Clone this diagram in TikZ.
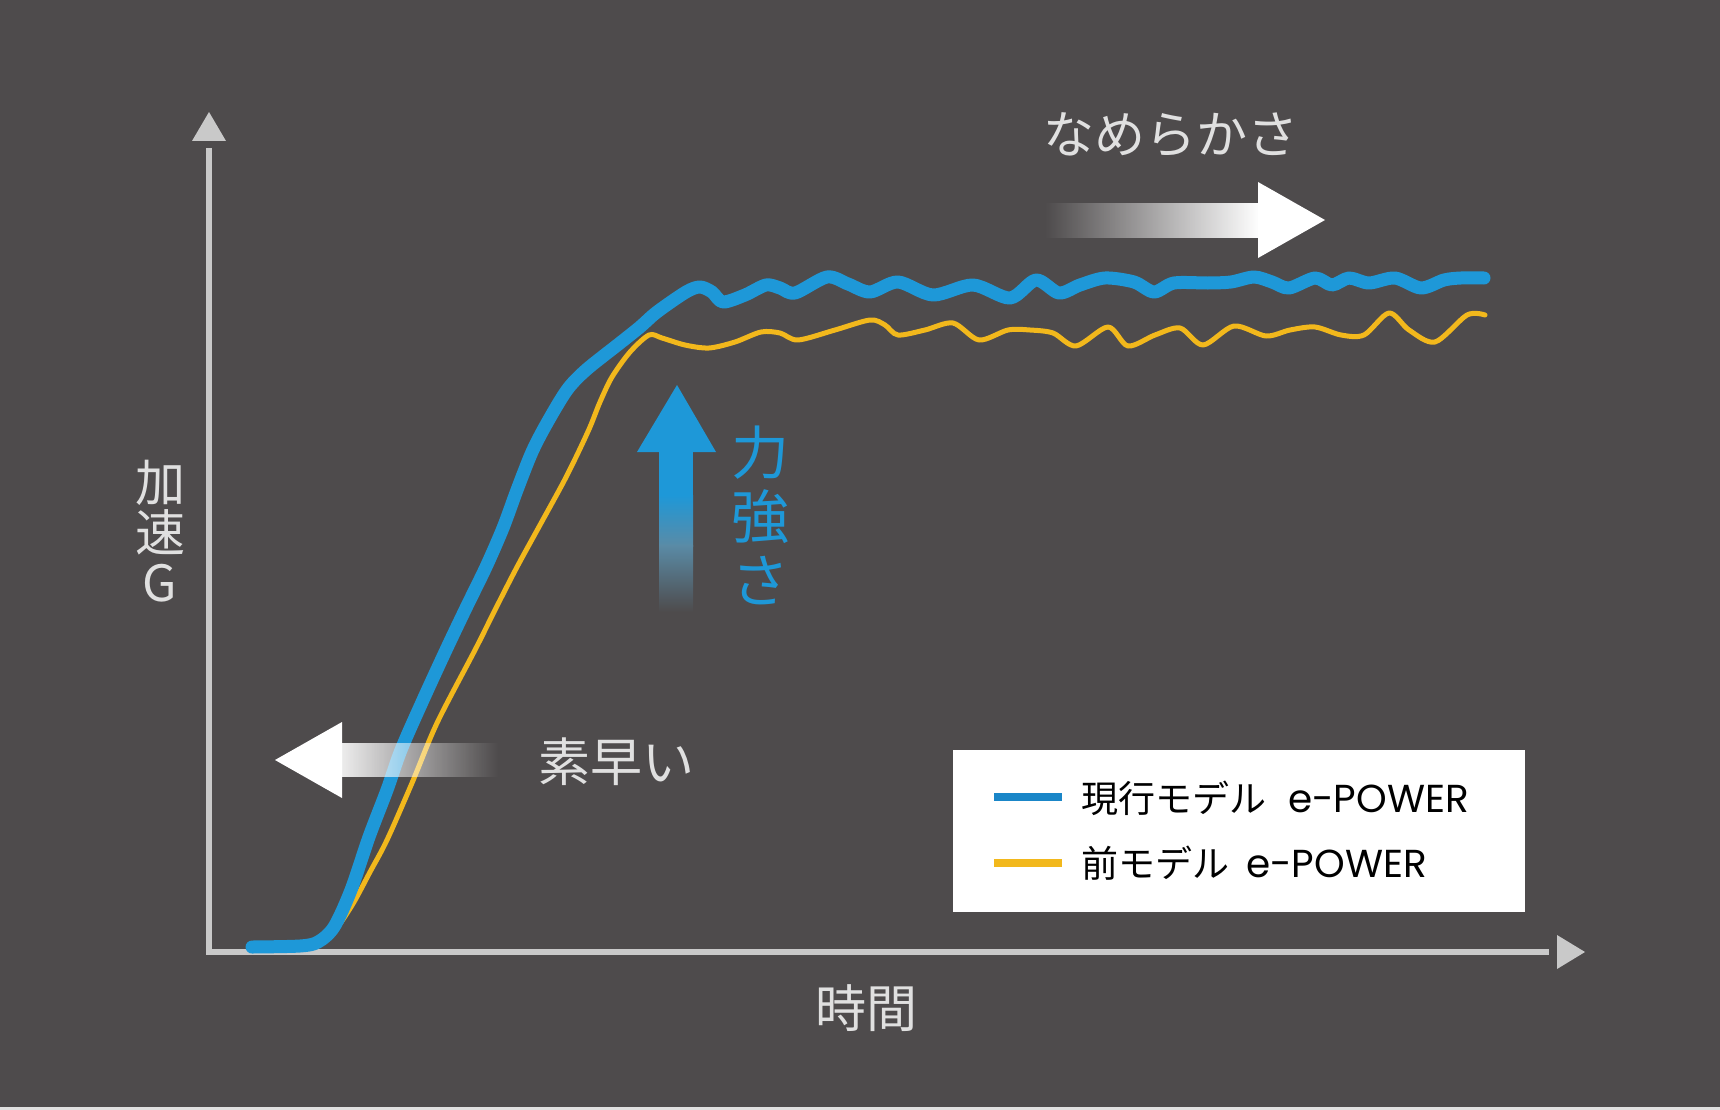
\documentclass[tikz,border=0pt]{standalone}
\usepackage{fontspec}
\setmainfont{Noto Sans CJK JP}
\newfontfamily\latinfont{Poppins}
\usetikzlibrary{fadings}
\definecolor{bg}{HTML}{4E4B4C}
\definecolor{axisc}{HTML}{C9C9C9}
\definecolor{txt}{HTML}{E0E0E0}
\definecolor{cblue}{HTML}{1E98D8}
\definecolor{cyellow}{HTML}{F2B81C}
\definecolor{lblue}{HTML}{1A86C8}
\definecolor{midblue}{HTML}{5A8BA6}
\definecolor{midgray}{HTML}{707070}
\tikzfading[name=fadeR, left color=transparent!0, right color=transparent!100]
\tikzfading[name=fadeL, left color=transparent!100, right color=transparent!0]
\tikzset{
  curve/.style={line join=round, line cap=round},
  label/.style={text=txt, inner sep=0pt},
  legtext/.style={anchor=west, inner sep=0pt, text=black, font=\fontsize{37}{37}\selectfont},
}
\newcommand\epower{{\latinfont\fontsize{39}{39}\selectfont e-POWER}}
\begin{document}
\begin{tikzpicture}[x=1pt,y=-1pt]
\useasboundingbox (0,0) rectangle (1720,1110);
\fill[bg] (0,0) rectangle (1720,1110);
\fill[black!12] (0,1107) rectangle (1720,1110);

% axes
\coordinate (O) at (209,952);
\coordinate (ytop) at (209,148);
\coordinate (xend) at (1549,952);
\draw[axisc, line width=6, line join=miter] (ytop) -- (O) -- (xend);
\fill[axisc] (192,141) -- (209,112) -- (226,141) -- cycle;
\fill[axisc] (1557,935) -- (1585,952) -- (1557,969) -- cycle;

% previous model (yellow)
\draw[cyellow, line width=5, curve] plot[smooth, tension=0.5] coordinates {
(300,947) (330,935) (351,907) (370,872) (387,840) (412,783) (437,723) (475,650)
(496,608) (517,567) (540,525) (563,483) (577,455) (590,427) (600,402) (612,377)
(630,352) (649,335) (662,338) (685,345) (709,348) (735,342) (761,332) (780,333)
(798,340) (835,330) (870,320) (885,325) (898,335) (925,330) (953,323) (979,340)
(1008,330) (1030,330) (1053,333) (1076,346) (1108,327) (1128,346) (1155,335)
(1180,328) (1203,345) (1234,326) (1266,336) (1290,330) (1315,327) (1341,335)
(1364,335) (1389,313) (1409,330) (1435,342) (1467,315) (1485,315)};

% current model (blue)
\draw[cblue, line width=13, curve] plot[smooth, tension=0.5] coordinates {
(252,947) (300,946) (318,942) (334,927) (351,890) (369,837) (387,790) (401,750)
(423,700) (446,650) (466,608) (486,567) (503,528) (517,490) (532,452) (547,423)
(567,390) (586,370) (620,343) (640,327) (657,312) (686,292) (700,287) (712,292)
(723,302) (745,295) (766,285) (780,288) (795,293) (827,277) (848,284) (870,292)
(898,282) (933,295) (973,285) (1010,298) (1036,280) (1059,293) (1080,285)
(1105,278) (1134,282) (1154,292) (1174,283) (1208,283) (1231,282) (1254,277)
(1272,282) (1289,288) (1315,278) (1332,285) (1349,278) (1369,283) (1395,278)
(1421,288) (1444,280) (1461,278) (1484,278)};

% smoothness arrow
\fill[white, path fading=fadeL] (1045,203) rectangle (1259,238);
\fill[white] (1258,182) -- (1325,220) -- (1258,258) -- cycle;
\node[label, font=\fontsize{51}{51}\selectfont] (smooth) at (1171,135) {なめらかさ};

% quickness arrow
\fill[white] (342,722) -- (275,760) -- (342,798) -- cycle;
\fill[white, path fading=fadeR, fill opacity=0.9] (341,743) rectangle (498,777);
\node[label, font=\fontsize{52}{52}\selectfont] (quick) at (616,762) {素早い};

% power arrow
\fill[cblue] (637,452) -- (677,385) -- (716,452) -- cycle;
\fill[cblue] (659,451) rectangle (693,496);
\fill[top color=cblue, bottom color=midblue] (659,495) rectangle (693,546);
\fill[top color=midblue, middle color=midgray, bottom color=bg] (659,545) rectangle (693,612);
\node[inner sep=0pt, text=cblue, align=center, font=\fontsize{58}{64}\selectfont] (power) at (760,515) {力\\強\\さ};

% axis labels
\node[label, align=center, font=\fontsize{50}{50}\selectfont] (accel) at (160,531) {加\\速\\G};
\node[label, font=\fontsize{51}{51}\selectfont] (time) at (866,1008) {時間};

% legend
\fill[white] (953,750) rectangle (1525,912);
\draw[lblue, line width=8] (994,797) -- (1062,797);
\draw[cyellow, line width=8] (994,863) -- (1062,863);
\node[legtext] (leg1) at (1081,798) {現行モデル\hspace{22pt}\epower};
\node[legtext] (leg2) at (1081,863) {前モデル\hspace{17pt}\epower};
\end{tikzpicture}
\end{document}
